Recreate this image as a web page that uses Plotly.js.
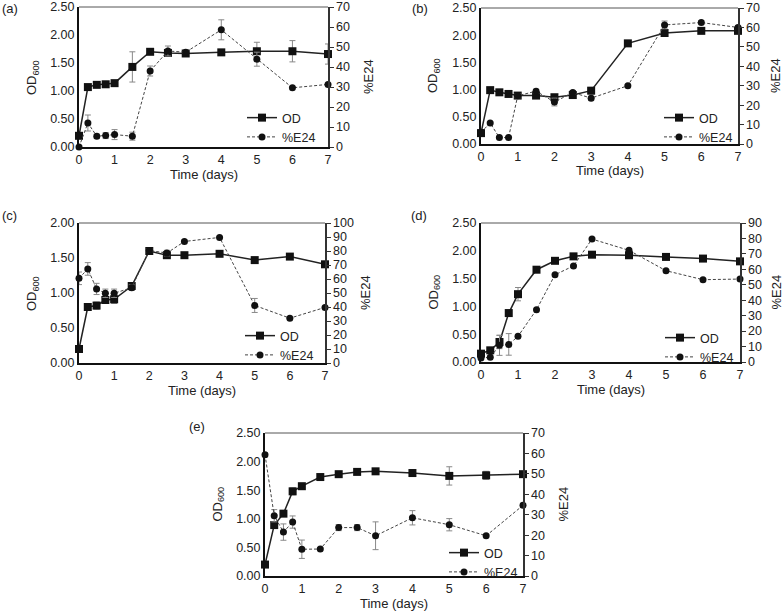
<!DOCTYPE html>
<html>
<head>
<meta charset="utf-8">
<script src="https://cdn.plot.ly/plotly-3.0.1.min.js"></script>
<style>html,body{margin:0;padding:0;background:#fff;}#chart{width:784px;height:613px;}</style>
</head>
<body>
<div id="chart"></div>
<script>
// ---- data ----
const time = [0, 0.25, 0.5, 0.75, 1, 1.5, 2, 2.5, 3, 4, 5, 6, 7];
const panelLabels = ["(a)", "(b)", "(c)", "(d)", "(e)"];
const xTicks = [0, 1, 2, 3, 4, 5, 6, 7];
const xTitle = "Time (days)";
const yLeftTitle = "OD<sub>600</sub>";
const yRightTitle = "%E24";

const OD_a = [0.20, 1.07, 1.11, 1.12, 1.14, 1.43, 1.70, 1.68, 1.67, 1.69, 1.71, 1.71, 1.66];
const OD_a_err = [0.02, 0.02, 0.02, 0.04, 0.05, 0.27, 0.02, 0.04, 0.02, 0.05, 0.16, 0.19, 0.18];
const E24_a = [0, 12, 5.4, 5.7, 6.2, 5.4, 38, 48, 47.4, 58.6, 43.9, 29.6, 31.3];
const E24_a_err = [0, 4, 1, 1.5, 2.5, 2, 2.5, 2.5, 0.5, 5, 3.5, 0.5, 0.5];

const OD_b = [0.20, 0.99, 0.95, 0.92, 0.89, 0.89, 0.86, 0.90, 0.98, 1.85, 2.04, 2.08, 2.08];
const OD_b_err = [0.03, 0.02, 0.02, 0.02, 0.03, 0.02, 0.03, 0.03, 0.06, 0.05, 0.05, 0.03, 0.05];
const E24_b = [6, 10.8, 3.3, 3.3, 24.8, 27.2, 21.6, 26.5, 23.6, 30, 61.3, 62.5, 60];
const E24_b_err = [0.5, 0.5, 0.5, 0.5, 1, 1, 2, 1, 1, 0.5, 2, 1, 1];

const OD_c = [0.20, 0.80, 0.82, 0.90, 0.91, 1.10, 1.60, 1.54, 1.54, 1.56, 1.47, 1.52, 1.41];
const OD_c_err = [0.01, 0.01, 0.05, 0.04, 0.06, 0.02, 0.02, 0.02, 0.01, 0.01, 0.01, 0.04, 0.03];
const E24_c = [60.5, 67.2, 52.9, 49.8, 49.8, 53.8, 80.4, 78.5, 86.8, 89.7, 41.1, 32, 39.7];
const E24_c_err = [4.5, 4.5, 4, 3, 3, 2, 1, 2, 1, 0.5, 5, 0.5, 0.5];

const OD_d = [0.15, 0.21, 0.36, 0.88, 1.22, 1.66, 1.82, 1.90, 1.93, 1.92, 1.89, 1.86, 1.81];
const OD_d_err = [0.01, 0.01, 0.12, 0.05, 0.12, 0.03, 0.02, 0.03, 0.04, 0.03, 0.01, 0.01, 0.01];
const E24_d = [2.6, 3.0, 10.8, 11.4, 16.6, 33.9, 56.5, 62.2, 79.6, 72.3, 59.1, 53.3, 53.7];
const E24_d_err = [0.5, 0.5, 6.5, 7, 0.5, 0.5, 0.5, 0.5, 0.5, 0.5, 0.5, 0.5, 0.5];

const OD_e = [0.20, 0.89, 1.09, 1.48, 1.57, 1.73, 1.78, 1.82, 1.83, 1.80, 1.75, 1.76, 1.78];
const OD_e_err = [0.01, 0.02, 0.02, 0.06, 0.05, 0.02, 0.02, 0.01, 0.02, 0.06, 0.16, 0.07, 0.03];
const E24_e = [59.4, 29.5, 21.5, 26.4, 13.1, 13.2, 23.7, 23.7, 19.7, 28.5, 25.1, 19.7, 34.6];
const E24_e_err = [1, 3, 4, 3, 4.5, 0.5, 1.5, 1.5, 6.8, 3.5, 3, 0.5, 1];

const odMax = [2.5, 2.5, 2.0, 2.5, 2.5];
const e24Max = [70, 70, 100, 90, 70];

const ODs = [OD_a, OD_b, OD_c, OD_d, OD_e];
const ODerrs = [OD_a_err, OD_b_err, OD_c_err, OD_d_err, OD_e_err];
const E24s = [E24_a, E24_b, E24_c, E24_d, E24_e];
const E24errs = [E24_a_err, E24_b_err, E24_c_err, E24_d_err, E24_e_err];

// ---- layout geometry (pixels) ----
const W = 784, H = 613;
const boxes = [ // left, right, top, bottom
  [79, 328, 7, 147],
  [481, 738, 8, 144],
  [79, 325, 223, 363],
  [481, 740, 223, 362],
  [265, 523, 433, 576]
];
const legendPos = [ // line start x, top y
  [249, 103], [666, 103], [247, 321], [667, 323], [451, 538]
];
const labelPos = [[0, 8], [410, 8], [0, 216], [409, 215], [187, 426]];

const FONT = "Liberation Sans, Arial, sans-serif";
const traces = [];
const layout = {
  width: W, height: H,
  margin: {l: 0, r: 0, t: 0, b: 0},
  paper_bgcolor: "#fff", plot_bgcolor: "#fff",
  font: {family: FONT, size: 12, color: "#222"},
  showlegend: true,
  annotations: [], shapes: []
};

function ann(text, x, y, angle, size) {
  return {
    text: text, xref: "paper", yref: "paper", x: x / W, y: 1 - y / H,
    xanchor: "center", yanchor: "middle", textangle: angle, showarrow: false,
    font: {size: size, family: FONT, color: "#222"}
  };
}

for (let i = 0; i < 5; i++) {
  const [l, r, t, b] = boxes[i];
  const xn = i === 0 ? "" : String(i + 1);
  const yLn = i === 0 ? "" : String(2 * i + 1);
  const yRn = String(2 * i + 2);
  const legName = i === 0 ? "legend" : "legend" + (i + 1);

  layout["xaxis" + xn] = {
    domain: [l / W, r / W], anchor: "y" + yLn,
    range: [0, 7], tickvals: xTicks, ticks: "", showgrid: false, zeroline: false,
    showline: true, linewidth: 2, linecolor: "#111",
    tickfont: {size: 12.5, family: FONT, color: "#222"},
    automargin: false, fixedrange: true
  };
  layout["yaxis" + yLn] = {
    domain: [1 - b / H, 1 - t / H], anchor: "x" + xn,
    range: [0, odMax[i]], dtick: 0.5, tickformat: ".2f", ticks: "",
    showgrid: false, zeroline: false, showline: true, linewidth: 2, linecolor: "#111",
    tickfont: {size: 12.5, family: FONT, color: "#222"},
    automargin: false, fixedrange: true
  };
  layout["yaxis" + yRn] = {
    overlaying: "y" + yLn, side: "right", anchor: "x" + xn,
    range: [0, e24Max[i]], dtick: 10, ticks: "outside", ticklen: 4, tickwidth: 1, tickcolor: "#333",
    showgrid: false, zeroline: false, showline: true, linewidth: 1.5, linecolor: "#333",
    tickfont: {size: 12.5, family: FONT, color: "#222"},
    automargin: false, fixedrange: true
  };
  layout[legName] = {
    x: (legendPos[i][0] - 7) / W, y: 1 - legendPos[i][1] / H,
    xanchor: "left", yanchor: "top",
    bgcolor: "rgba(0,0,0,0)", borderwidth: 0,
    font: {size: 12.5, family: FONT, color: "#222"},
    itemwidth: 30
  };
  // thin top border
  layout.shapes.push({
    type: "line", xref: "x" + xn + " domain", yref: "y" + yLn + " domain",
    x0: 0, x1: 1, y0: 1, y1: 1, line: {color: "#555", width: 1}
  });
  // panel label and axis titles
  const lab = ann(panelLabels[i], labelPos[i][0], labelPos[i][1], 0, 13);
  lab.xanchor = "left";
  layout.annotations.push(lab);
  layout.annotations.push(ann(xTitle, (l + r) / 2, b + 27, 0, 13));
  layout.annotations.push(ann(yLeftTitle, l - 47, (t + b) / 2, -90, 13));
  layout.annotations.push(ann(yRightTitle, Math.min(r + 40, 776), (t + b) / 2, -90, 13));

  traces.push({
    type: "scatter", mode: "lines+markers", name: "OD",
    x: time, y: ODs[i], xaxis: "x" + xn, yaxis: "y" + yLn,
    legend: legName,
    line: {color: "#222", width: 1.5},
    marker: {symbol: "square", size: 8, color: "#111"},
    error_y: {type: "data", array: ODerrs[i], visible: true, color: "#888", thickness: 1, width: 3},
    cliponaxis: false
  });
  traces.push({
    type: "scatter", mode: "lines+markers", name: "%E24",
    x: time, y: E24s[i], xaxis: "x" + xn, yaxis: "y" + yRn,
    legend: legName,
    line: {color: "#444", width: 1, dash: "3px,2px"},
    marker: {symbol: "circle", size: 7, color: "#111"},
    error_y: {type: "data", array: E24errs[i], visible: true, color: "#888", thickness: 1, width: 3},
    cliponaxis: false
  });
}

Plotly.newPlot("chart", traces, layout, {staticPlot: true, displayModeBar: false});
</script>
</body>
</html>
